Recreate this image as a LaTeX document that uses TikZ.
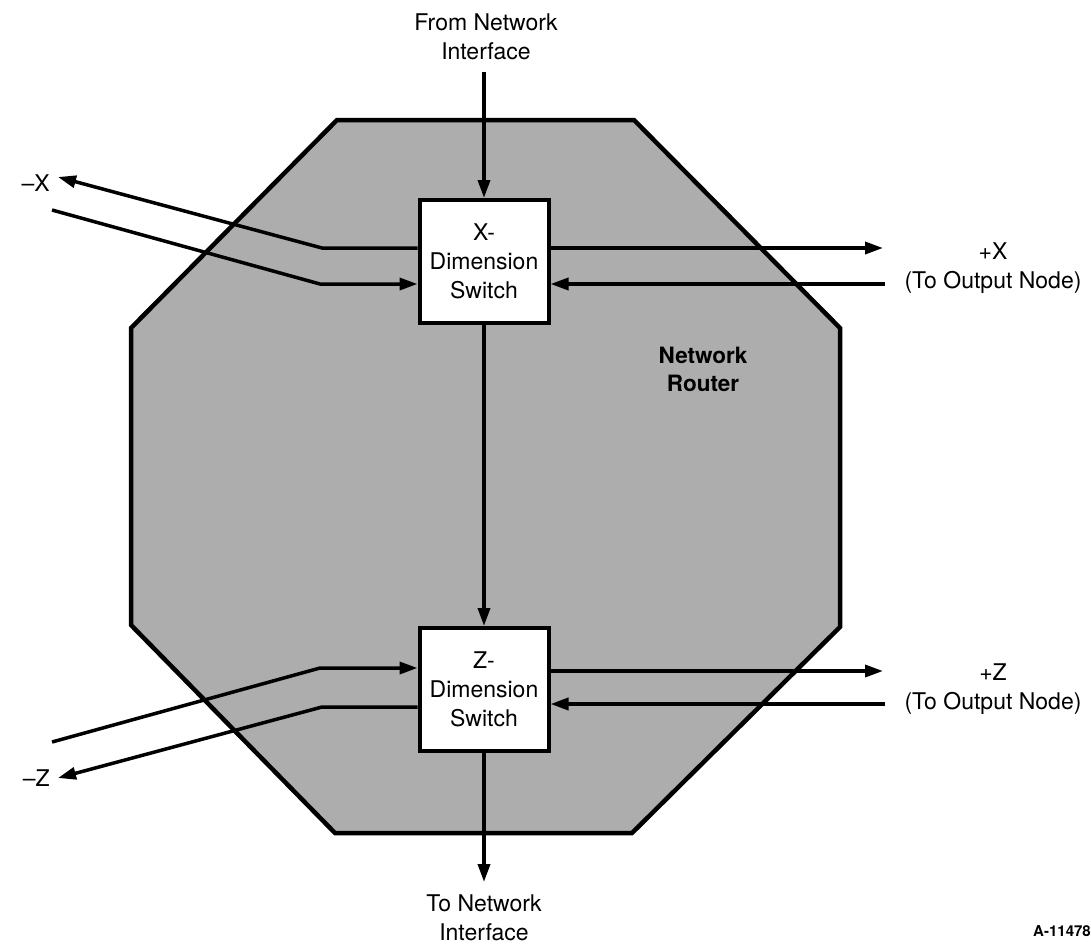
\documentclass[tikz,border=0pt]{standalone}
\usepackage{fontspec}
\setmainfont{TeX Gyre Heros}
\usetikzlibrary{arrows.meta}
\begin{document}
\begin{tikzpicture}[x=1pt,y=-1pt,
  router/.style={draw=black, line width=4.5pt, fill=black!32, line join=miter},
  switchbox/.style={draw=black, line width=4pt, fill=white,
    minimum width=129pt, minimum height=123pt, inner sep=0pt,
    align=center, font=\fontsize{23}{29}\selectfont},
  link/.style={line width=3.5pt, line join=round, -{Triangle[length=18pt,width=12pt]}},
  lbl/.style={align=center, inner sep=0pt, font=\fontsize{23}{29}\selectfont},
]
\useasboundingbox (0,0) rectangle (1091,946);

% router outline
\draw[router] (337,120) -- (634,120) -- (840,328) -- (840,627) -- (632,833)
  -- (335,833) -- (131,625) -- (131,328) -- cycle;
\node[font=\bfseries\fontsize{22.5}{28}\selectfont, align=center, inner sep=0pt]
  (rt) at (703,369) {Network\\Router};

% switches
\node[switchbox] (xsw) at (484,261.5) {X-\\Dimension\\Switch};
\node[switchbox] (zsw) at (484,689.5) {Z-\\Dimension\\Switch};

% outside labels
\node[lbl] (src) at (486,37) {From Network\\Interface};
\node[lbl] (dst) at (484,918) {To Network\\Interface};
\node[lbl] (px) at (993,268) {+X\\(To Output Node)};
\node[lbl] (pz) at (993,689) {+Z\\(To Output Node)};
\node[lbl, anchor=east] (mx) at (50,183) {–X};
\node[lbl, anchor=east] (mz) at (50,778) {–Z};
\node[font=\bfseries\fontsize{15}{18}\selectfont, anchor=east, inner sep=0pt]
  (fig) at (1091,931) {A-11478};

% vertical path
\coordinate (srcEnd) at (484,72);
\coordinate (dstEnd) at (484,882);
\draw[link] (srcEnd) -- (xsw.north);
\draw[link] (xsw.south) -- (zsw.north);
\draw[link] (zsw.south) -- (dstEnd);

% X dimension, minus side
\coordinate (xoKnee) at (322,248);
\coordinate (xoTip) at (58,177);
\draw[link] (xsw.west |- xoKnee) -- (xoKnee) -- (xoTip);
\coordinate (xiStart) at (52,210);
\coordinate (xiKnee) at (320,284);
\draw[link] (xiStart) -- (xiKnee) -- (xsw.west |- xiKnee);

% X dimension, plus side
\coordinate (xoR) at (883,248);
\coordinate (xiR) at (885,284);
\draw[link] (xsw.east |- xoR) -- (xoR);
\draw[link] (xiR) -- (xsw.east |- xiR);

% Z dimension, minus side
\coordinate (ziStart) at (52,742);
\coordinate (ziKnee) at (320,668);
\draw[link] (ziStart) -- (ziKnee) -- (zsw.west |- ziKnee);
\coordinate (zoKnee) at (322,707);
\coordinate (zoTip) at (58,778);
\draw[link] (zsw.west |- zoKnee) -- (zoKnee) -- (zoTip);

% Z dimension, plus side
\coordinate (zoR) at (883,671);
\coordinate (ziR) at (885,704);
\draw[link] (zsw.east |- zoR) -- (zoR);
\draw[link] (ziR) -- (zsw.east |- ziR);
\end{tikzpicture}
\end{document}
